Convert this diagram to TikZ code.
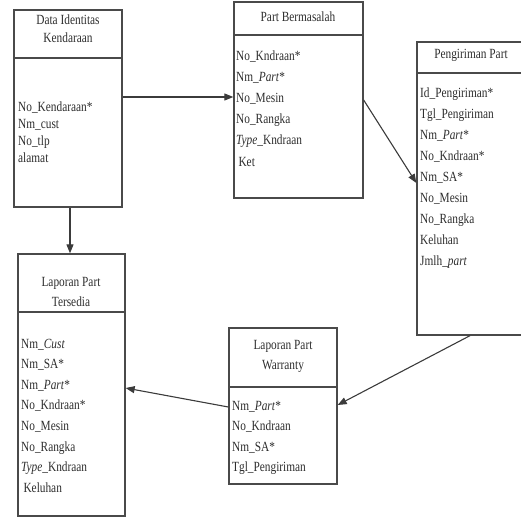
\documentclass[tikz,border=0pt]{standalone}
\usepackage{fontspec}
\setmainfont{Liberation Serif}[FakeStretch=0.81]
\usetikzlibrary{arrows.meta}
\definecolor{ln}{HTML}{4A4A4A}
\definecolor{tx}{HTML}{2E2E2E}
\begin{document}
\begin{tikzpicture}[x=1pt,y=-1pt,
  box/.style={draw=ln,line width=1.3pt,inner sep=0pt,fill=white},
  divl/.style={draw=ln,line width=1.5pt},
  hdr/.style={text=tx,font=\fontsize{14}{16}\selectfont,inner sep=0pt,anchor=center},
  attr/.style={text=tx,font=\fontsize{14}{16}\selectfont,inner sep=0pt,anchor=west,text height=9pt,text depth=3pt},
  conn/.style={draw=ln!80!black,line width=1.1pt},
  arr/.style={conn,-{Triangle[length=9pt,width=7pt]}}]
\useasboundingbox (0,0) rectangle (521,517);
% boxes
\node[box,minimum width=108pt,minimum height=197pt] (b1) at (68,108.5) {};
\node[box,minimum width=129pt,minimum height=196pt] (b2) at (298.5,100) {};
\node[box,minimum width=107pt,minimum height=293pt] (b3) at (470.5,188.5) {};
\node[box,minimum width=107pt,minimum height=262pt] (b4) at (71.5,385) {};
\node[box,minimum width=108pt,minimum height=156pt] (b5) at (283,406) {};
% dividers
\draw[divl] (b1.west |- 0,58) -- (b1.east |- 0,58);
\draw[divl] (b2.west |- 0,35) -- (b2.east |- 0,35);
\draw[divl] (b3.west |- 0,73) -- (b3.east |- 0,73);
\draw[divl] (b4.west |- 0,312) -- (b4.east |- 0,312);
\draw[divl] (b5.west |- 0,387) -- (b5.east |- 0,387);
% headers
\node[hdr] (h1a) at (68,20) {Data Identitas};
\node[hdr] (h1b) at (68,38) {Kendaraan};
\node[hdr] (h2) at (298,17) {Part Bermasalah};
\node[hdr] (h3) at (471,55) {Pengiriman Part};
\node[hdr] (h4a) at (71,283) {Laporan Part};
\node[hdr] (h4b) at (71,302) {Tersedia};
\node[hdr] (h5a) at (283,346) {Laporan Part};
\node[hdr] (h5b) at (283,366) {Warranty};
% attributes
\foreach \t [count=\i] in {No\_Kendaraan*, Nm\_cust, No\_tlp, alamat}
  \node[attr] (b1a\i) at (18,{108+17.3*(\i-1)}) {\t};
\foreach \t [count=\i] in {No\_Kndraan*, Nm\_\textit{Part}*, No\_Mesin, No\_Rangka, \textit{Type}\_Kndraan, \,Ket}
  \node[attr] (b2a\i) at (236,{57+21.2*(\i-1)}) {\t};
\foreach \t [count=\i] in {Id\_Pengiriman*, Tgl\_Pengiriman, Nm\_\textit{Part}*, No\_Kndraan*, Nm\_SA*, No\_Mesin, No\_Rangka, Keluhan, Jmlh\_\textit{part}}
  \node[attr] (b3a\i) at (420,{94+21*(\i-1)}) {\t};
\foreach \t [count=\i] in {Nm\_\textit{Cust}, Nm\_SA*, Nm\_\textit{Part}*, No\_Kndraan*, No\_Mesin, No\_Rangka, \textit{Type}\_Kndraan, \,Keluhan}
  \node[attr] (b4a\i) at (21,{345+20.6*(\i-1)}) {\t};
\foreach \t [count=\i] in {Nm\_\textit{Part}*, No\_Kndraan, Nm\_SA*, Tgl\_Pengiriman}
  \node[attr] (b5a\i) at (232,{407+20.5*(\i-1)}) {\t};
% connectors
\draw[arr] (b1.east |- 0,97) -- (b2.west |- 0,97);
\draw[arr] (b2.east |- 0,100) -- (b3.west |- 0,183);
\draw[arr] (b3.south -| 470,0) -- (b5.east |- 0,405);
\draw[arr] (b5.west |- 0,407) -- (b4.east |- 0,388);
\draw[arr] (b1.south -| 70,0) -- (b4.north -| 70,0);
\end{tikzpicture}
\end{document}
